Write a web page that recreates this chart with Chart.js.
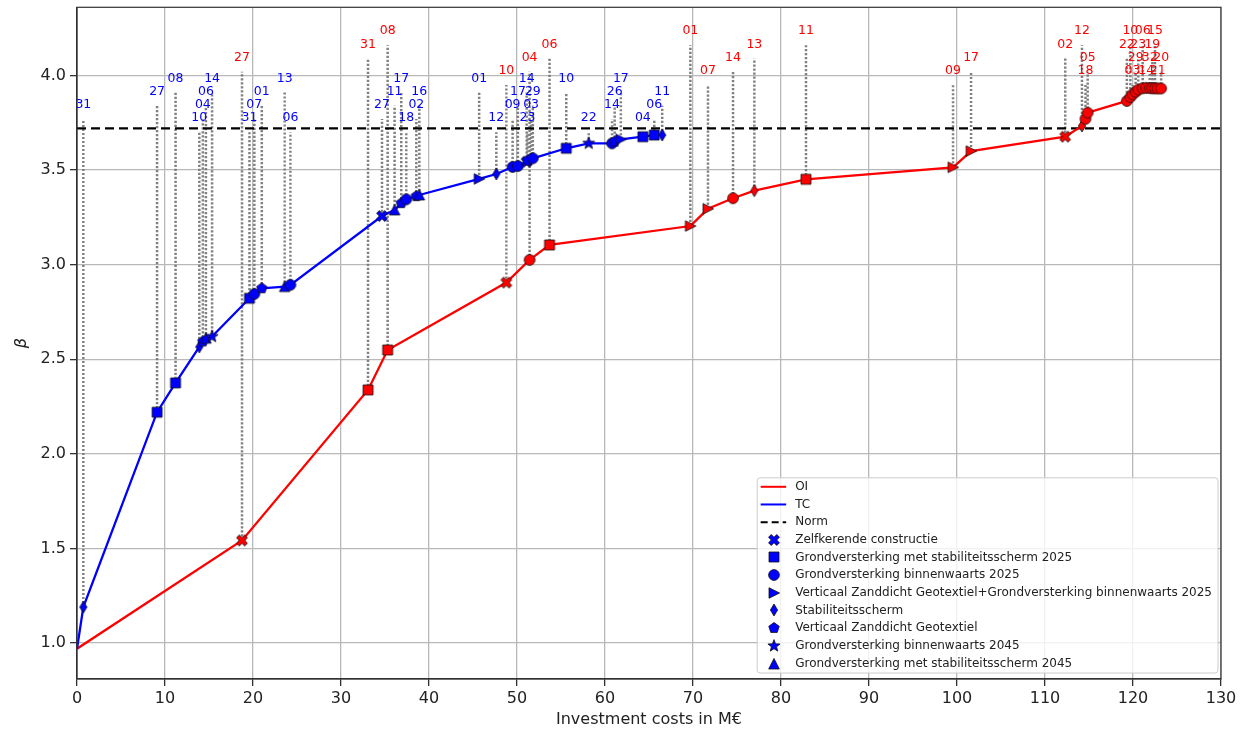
<!DOCTYPE html>
<html>
<head>
<meta charset="utf-8">
<script src="https://cdn.jsdelivr.net/npm/chart.js@4.4.0/dist/chart.umd.min.js"></script>
<style>
  html, body { margin: 0; padding: 0; background: #fff; }
  canvas { display: block; }
</style>
</head>
<body>
<canvas id="costChart" width="1240" height="729"></canvas>
<script>
// beta against investment cost for the OI and TC strategies
const xTicks = [0, 10, 20, 30, 40, 50, 60, 70, 80, 90, 100, 110, 120, 130];
const yTicks = [1.0, 1.5, 2.0, 2.5, 3.0, 3.5, 4.0];
const normBeta = 3.72;
const startCost = 0;
const startBeta = 0.97;

const oiLabels = ['27', '31', '08', '10', '04', '06', '01', '07', '14', '13', '11', '09', '17', '02', '12', '18', '05',
  '22', '10', '03', '29', '23', '06', '14', '32', '19', '15', '21', '20'];
const oiCost = [18.75, 33.07, 35.3, 48.79, 51.43, 53.7, 69.7, 71.7, 74.55, 76.97, 82.84, 99.55, 101.6, 112.3, 114.2, 114.6, 114.85,
  119.3, 119.7, 119.95, 120.3, 120.6, 121.1, 121.5, 121.9, 122.2, 122.5, 122.8, 123.2];
const oiBeta = [1.542, 2.338, 2.549, 2.905, 3.025, 3.104, 3.204, 3.295, 3.351, 3.391, 3.451, 3.514, 3.60, 3.676, 3.733, 3.77, 3.803,
  3.865, 3.885, 3.90, 3.913, 3.925, 3.932, 3.934, 3.933, 3.932, 3.932, 3.931, 3.931];
const oiMarker = ['X', 's', 's', 'X', 'o', 's', '>', '>', 'o', 'd', 's', '>', '>', 'X', 'd', 'o', 'o',
  'o', 'o', 'o', 'o', 'o', 'o', 'o', 'o', 'o', 'o', 'o', 'o'];

const tcLabels = ['31', '27', '08', '10', '04', '06', '14', '31', '07', '01', '13', '06', '27', '11', '17', '18', '02',
  '16', '01', '12', '09', '17', '14', '23', '03', '29', '10', '22', '14', '26', '17', '04', '06', '11'];
const tcCost = [0.72, 9.1, 11.2, 13.9, 14.3, 14.65, 15.35, 19.6, 20.15, 21.0, 23.6, 24.25, 34.66, 36.09, 36.85, 37.42, 38.56,
  38.9, 45.7, 47.65, 49.5, 50.1, 51.1, 51.2, 51.6, 51.8, 55.6, 58.15, 60.8, 61.1, 61.8, 64.3, 65.6, 66.5];
const tcBeta = [1.19, 2.22, 2.375, 2.565, 2.594, 2.611, 2.62, 2.822, 2.845, 2.875, 2.884, 2.893, 3.257, 3.289, 3.325, 3.345, 3.362,
  3.368, 3.453, 3.479, 3.516, 3.521, 3.544, 3.55, 3.558, 3.562, 3.615, 3.641, 3.641, 3.65, 3.662, 3.676, 3.685, 3.685];
const tcMarker = ['d', 's', 's', 'd', 'p', '^', '*', 's', 'o', 'p', '^', 'o', 'X', '^', 'p', 'o', 'p',
  '^', '>', 'd', 'o', 'o', 'X', 'p', 'd', 'o', 's', '*', 'o', 'p', '>', 's', 's', 'd'];

// labels sit on four staggered levels above each curve
const oiLabelBase = 3.95;
const tcLabelBase = 3.70;
const labelStep = 0.07;

const legendNames = ['OI', 'TC', 'Norm', 'Zelfkerende constructie', 'Grondversterking met stabiliteitsscherm 2025',
  'Grondversterking binnenwaarts 2025', 'Verticaal Zanddicht Geotextiel+Grondversterking binnenwaarts 2025',
  'Stabiliteitsscherm', 'Verticaal Zanddicht Geotextiel', 'Grondversterking binnenwaarts 2045',
  'Grondversterking met stabiliteitsscherm 2045'];
const legendMarkers = ['X', 's', 'o', '>', 'd', 'p', '*', '^'];

const markerCache = {};
function markerCanvas(shape, fill) {
  const key = shape + fill;
  if (markerCache[key]) return markerCache[key];
  const n = 18;
  const c = document.createElement('canvas');
  c.width = n; c.height = n;
  const g = c.getContext('2d');
  g.translate(n / 2, n / 2);
  g.beginPath();
  const poly = pts => pts.forEach(([px, py], i) => i ? g.lineTo(px, py) : g.moveTo(px, py));
  if (shape === 'o') {
    g.arc(0, 0, 5.4, 0, Math.PI * 2);
  } else if (shape === 's') {
    g.rect(-5, -5, 10, 10);
  } else if (shape === 'd') {
    poly([[0, -6], [3.6, 0], [0, 6], [-3.6, 0]]);
  } else if (shape === '>') {
    poly([[5.6, 0], [-5, -5.3], [-5, 5.3]]);
  } else if (shape === '^') {
    poly([[0, -5.6], [5.3, 5], [-5.3, 5]]);
  } else if (shape === 'p') {
    const pts = [];
    for (let i = 0; i < 5; i++) {
      const a = -Math.PI / 2 + i * 2 * Math.PI / 5;
      pts.push([5.5 * Math.cos(a), 5.5 * Math.sin(a)]);
    }
    poly(pts);
  } else if (shape === '*') {
    const pts = [];
    for (let i = 0; i < 10; i++) {
      const a = -Math.PI / 2 + i * Math.PI / 5;
      const r = i % 2 ? 2.7 : 6.4;
      pts.push([r * Math.cos(a), r * Math.sin(a)]);
    }
    poly(pts);
  } else if (shape === 'X') {
    g.rotate(Math.PI / 4);
    const L = 5.8, w = 1.9;
    poly([[-w, -L], [w, -L], [w, -w], [L, -w], [L, w], [w, w], [w, L], [-w, L], [-w, w], [-L, w], [-L, -w], [-w, -w]]);
  }
  g.closePath();
  g.fillStyle = fill;
  g.fill();
  g.lineWidth = 0.8;
  g.strokeStyle = '#111';
  g.stroke();
  markerCache[key] = c;
  return c;
}

const series = [
  { name: 'OI', color: '#ff0000', labels: oiLabels, cost: oiCost, beta: oiBeta, marker: oiMarker, labelBase: oiLabelBase },
  { name: 'TC', color: '#0000ff', labels: tcLabels, cost: tcCost, beta: tcBeta, marker: tcMarker, labelBase: tcLabelBase }
];

function labelTop(s, j) {
  return s.labelBase + labelStep * ((j + 1) % 4);
}

// dotted drop lines from every point up to its label
const dropData = [];
series.forEach(s => {
  s.cost.forEach((c, j) => {
    dropData.push({ x: c, y: s.beta[j] }, { x: c, y: labelTop(s, j) }, { x: c, y: null });
  });
});

function curveDataset(s, order) {
  return {
    label: s.name,
    data: [{ x: startCost, y: startBeta }].concat(s.cost.map((c, j) => ({ x: c, y: s.beta[j] }))),
    showLine: true,
    borderColor: s.color,
    borderWidth: 2.3,
    tension: 0,
    pointStyle: ['circle'].concat(s.marker.map(m => markerCanvas(m, s.color))),
    pointRadius: [0].concat(s.marker.map(() => 5)),
    order: order
  };
}

const pointLabels = {
  id: 'pointLabels',
  afterDatasetsDraw(chart) {
    const { ctx, scales: { x, y } } = chart;
    ctx.save();
    ctx.font = '12.5px "DejaVu Sans"';
    ctx.textAlign = 'center';
    ctx.textBaseline = 'middle';
    series.forEach(s => {
      ctx.fillStyle = s.color;
      s.labels.forEach((lab, j) => {
        ctx.fillText(lab, x.getPixelForValue(s.cost[j]), y.getPixelForValue(labelTop(s, j)) - 14);
      });
    });
    ctx.restore();
  }
};

const frameAndLegend = {
  id: 'frameAndLegend',
  afterDraw(chart) {
    const { ctx, chartArea: a } = chart;
    ctx.save();
    ctx.strokeStyle = '#333';
    ctx.lineWidth = 1.2;
    ctx.strokeRect(a.left, a.top, a.right - a.left, a.bottom - a.top);

    ctx.font = '12px "DejaVu Sans"';
    const textW = Math.max(...legendNames.map(t => ctx.measureText(t).width));
    const row = 17.67;
    const bw = 38 + textW + 6;
    const bh = row * (legendNames.length - 1) + 18.5;
    const bx = a.right - 3 - bw;
    const by = a.bottom - 6 - bh;
    ctx.beginPath();
    ctx.roundRect(bx, by, bw, bh, 3);
    ctx.fillStyle = 'rgba(255,255,255,0.8)';
    ctx.fill();
    ctx.strokeStyle = '#cccccc';
    ctx.lineWidth = 1;
    ctx.stroke();

    ctx.textBaseline = 'middle';
    ctx.textAlign = 'left';
    legendNames.forEach((name, i) => {
      const cy = by + 9 + row * i;
      if (i < 3) {
        ctx.beginPath();
        ctx.moveTo(bx + 3.5, cy);
        ctx.lineTo(bx + 29, cy);
        ctx.strokeStyle = ['#ff0000', '#0000ff', '#000000'][i];
        ctx.lineWidth = 2;
        ctx.setLineDash(i === 2 ? [7, 4] : []);
        ctx.stroke();
        ctx.setLineDash([]);
      } else {
        const m = markerCanvas(legendMarkers[i - 3], '#0000ff');
        ctx.drawImage(m, Math.round(bx + 17 - m.width / 2), Math.round(cy - m.height / 2));
      }
      ctx.fillStyle = '#222';
      ctx.fillText(name, bx + 38, cy);
    });
    ctx.restore();
  }
};

Chart.defaults.font.family = '"DejaVu Sans"';

new Chart(document.getElementById('costChart'), {
  type: 'scatter',
  data: {
    datasets: [
      {
        label: 'drop',
        data: dropData,
        showLine: true,
        borderColor: 'rgba(115,115,115,0.9)',
        borderWidth: 2.5,
        borderDash: [2.2, 1.8],
        pointRadius: 0,
        order: 10
      },
      {
        label: 'Norm',
        data: [{ x: 0, y: normBeta }, { x: 130, y: normBeta }],
        showLine: true,
        borderColor: '#000',
        borderWidth: 2.4,
        borderDash: [9, 5],
        pointRadius: 0,
        order: 9
      },
      curveDataset(series[0], 2),
      curveDataset(series[1], 1)
    ]
  },
  options: {
    responsive: false,
    animation: false,
    events: [],
    layout: { padding: { left: 0, right: 19, top: 7, bottom: 0 } },
    plugins: { legend: { display: false }, tooltip: { enabled: false } },
    scales: {
      x: {
        type: 'linear',
        min: 0,
        max: 130,
        afterBuildTicks: s => { s.ticks = xTicks.map(v => ({ value: v })); },
        afterFit: s => { s.height = 50; },
        grid: { color: '#b8b8b8', lineWidth: 1.3, tickColor: '#333', tickLength: 7 },
        border: { display: true, color: '#333', width: 1.2 },
        ticks: { color: '#222', font: { size: 16 }, padding: 3, maxRotation: 0, callback: v => String(v) },
        title: { display: true, text: 'Investment costs in M€', color: '#222', font: { size: 16 }, padding: 0 }
      },
      y: {
        type: 'linear',
        min: 0.81,
        max: 4.36,
        afterBuildTicks: s => { s.ticks = yTicks.map(v => ({ value: v })); },
        afterFit: s => { s.width = 77; s.paddingTop = 0; s.paddingBottom = 0; },
        grid: { color: '#b8b8b8', lineWidth: 1.3, tickColor: '#333', tickLength: 7 },
        border: { display: true, color: '#333', width: 1.2 },
        ticks: { color: '#222', font: { size: 16 }, padding: 4, callback: v => v.toFixed(1) },
        title: { display: true, text: 'β', color: '#222', font: { size: 16, style: 'italic' }, padding: { top: 12 } }
      }
    }
  },
  plugins: [pointLabels, frameAndLegend]
});
</script>
</body>
</html>
